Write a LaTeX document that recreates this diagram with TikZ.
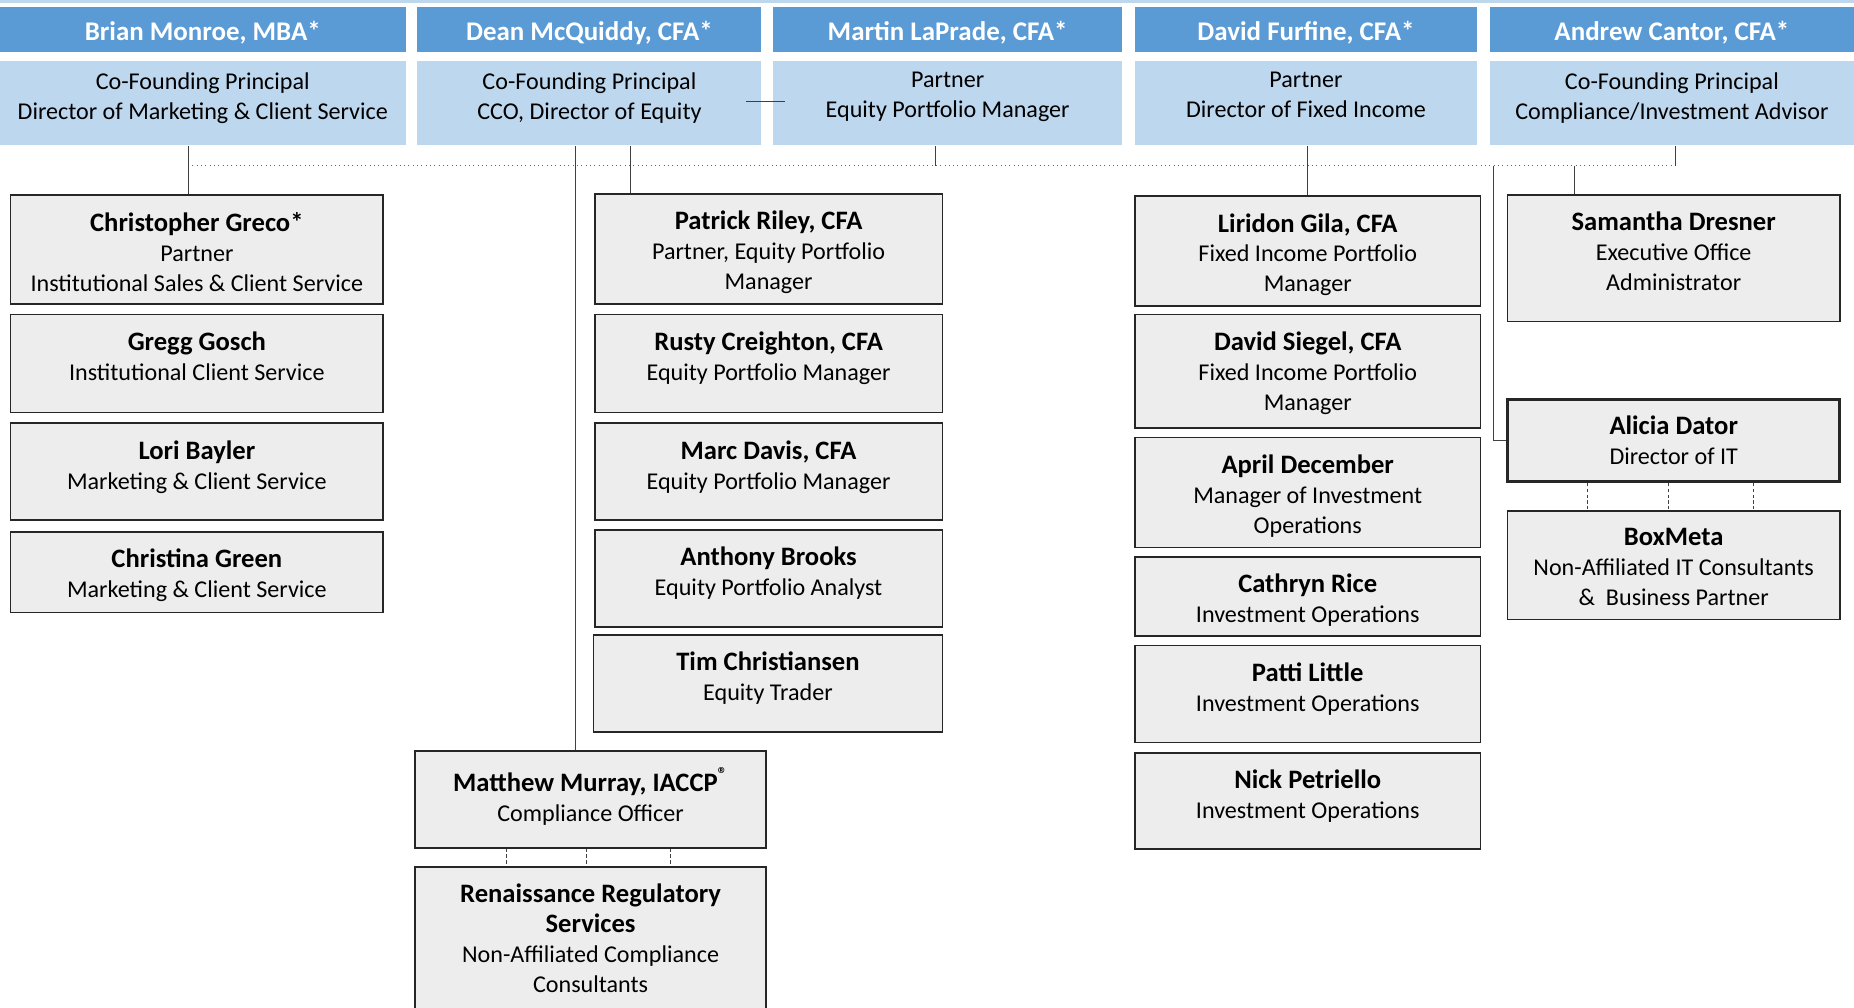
\documentclass[tikz,border=0pt]{standalone}
\usepackage{fontspec}
\setmainfont{Carlito}
\definecolor{hdrdark}{HTML}{5B9BD5}
\definecolor{hdrlight}{HTML}{BDD7EE}
\definecolor{cardfill}{HTML}{EDEDED}
\newcommand{\who}[1]{{\fontsize{16}{18}\selectfont\bfseries #1}}
\tikzset{
  sz/.style 2 args={minimum width=#1*0.025cm, minimum height=#2*0.025cm, inner sep=0pt},
  namebar/.style={fill=hdrdark, text=white, text height=15.8pt, text depth=3pt, font=\fontsize{16.2}{18}\selectfont\bfseries},
  rolebar/.style={fill=hdrlight},
  card/.style={draw=black!85, line width=1pt, fill=cardfill},
  txt/.style={anchor=north, align=center, inner sep=0pt, yshift=-10.6pt, font=\fontsize{14.5}{18}\selectfont, execute at begin node=\strut},
  roletxt/.style={txt, yshift=4pt},
  conn/.style={line width=.6pt, black!75},
  bus/.style={line width=.6pt, black!60, dotted},
  link/.style={line width=.6pt, black!75, dash pattern=on 2pt off 1.5pt},
}
\begin{document}
\begin{tikzpicture}[x=0.025cm, y=-0.025cm]
\useasboundingbox (0,0) rectangle (1568,852);
\fill[hdrlight] (0,0) rectangle (1568,2.5);

% partners
\node[namebar, sz={343}{38}] (brianN) at (171.5,25) {Brian Monroe, MBA*};
\node[namebar, sz={291}{38}] (deanN) at (498.5,25) {Dean McQuiddy, CFA*};
\node[namebar, sz={295}{38}] (martinN) at (801.5,25) {Martin LaPrade, CFA*};
\node[namebar, sz={289}{38}] (davidN) at (1104.5,25) {David Furfine, CFA*};
\node[namebar, sz={308}{38}] (andrewN) at (1414,25) {Andrew Cantor, CFA*};
\node[rolebar, sz={343}{71}, label={[roletxt]north:{Co-Founding Principal\\Director of Marketing \& Client Service}}] (brian) at (171.5,87.5) {};
\node[rolebar, sz={291}{71}, label={[roletxt]north:{Co-Founding Principal\\CCO, Director of Equity}}] (dean) at (498.5,87.5) {};
\node[rolebar, sz={295}{71}, label={[roletxt]north:{Partner\\Equity Portfolio Manager}}] (martin) at (801.5,87.5) {};
\node[rolebar, sz={289}{71}, label={[roletxt]north:{Partner\\Director of Fixed Income}}] (david) at (1104.5,87.5) {};
\node[rolebar, sz={308}{71}, label={[roletxt]north:{Co-Founding Principal\\Compliance/Investment Advisor}}] (andrew) at (1414,87.5) {};

% marketing
\node[card, sz={315}{92}, label={[txt]north:{\who{Christopher Greco*}\\Partner\\Institutional Sales \& Client Service}}] (greco) at (166.5,211) {};
\node[card, sz={315}{83}, label={[txt]north:{\who{Gregg Gosch}\\Institutional Client Service}}] (gosch) at (166.5,307.5) {};
\node[card, sz={315}{82}, label={[txt]north:{\who{Lori Bayler}\\Marketing \& Client Service}}] (bayler) at (166.5,399) {};
\node[card, sz={315}{68}, label={[txt]north:{\who{Christina Green}\\Marketing \& Client Service}}] (green) at (166.5,484) {};

% equity
\node[card, sz={294}{93}, label={[txt]north:{\who{Patrick Riley, CFA}\\Partner, Equity Portfolio\\Manager}}] (riley) at (650,210.5) {};
\node[card, sz={294}{83}, label={[txt]north:{\who{Rusty Creighton, CFA}\\Equity Portfolio Manager}}] (creighton) at (650,307.5) {};
\node[card, sz={294}{82}, label={[txt]north:{\who{Marc Davis, CFA}\\Equity Portfolio Manager}}] (davis) at (650,399) {};
\node[card, sz={294}{82}, label={[txt]north:{\who{Anthony Brooks}\\Equity Portfolio Analyst}}] (brooks) at (650,489) {};
\node[card, sz={295}{82}, label={[txt]north:{\who{Tim Christiansen}\\Equity Trader}}] (christiansen) at (649.5,578) {};

% compliance
\node[card, sz={297}{82}, label={[txt]north:{\who{Matthew Murray, IACCP\textsuperscript{\textregistered}}\\Compliance Officer}}] (murray) at (499.5,676) {};
\node[card, sz={297}{137}, label={[txt]north:{\who{Renaissance Regulatory}\\\who{Services}\\Non-Affiliated Compliance\\Consultants}}] (rrs) at (499.5,801.5) {};

% fixed income and operations
\node[card, sz={292}{93}, label={[txt]north:{\who{Liridon Gila, CFA}\\Fixed Income Portfolio\\Manager}}] (gila) at (1106,212.5) {};
\node[card, sz={292}{96}, label={[txt]north:{\who{David Siegel, CFA}\\Fixed Income Portfolio\\Manager}}] (siegel) at (1106,314) {};
\node[card, sz={292}{93}, label={[txt]north:{\who{April December}\\Manager of Investment\\Operations}}] (december) at (1106,416.5) {};
\node[card, sz={292}{67}, label={[txt]north:{\who{Cathryn Rice}\\Investment Operations}}] (rice) at (1106,504.5) {};
\node[card, sz={292}{82}, label={[txt]north:{\who{Patti Little}\\Investment Operations}}] (little) at (1106,587) {};
\node[card, sz={292}{81}, label={[txt]north:{\who{Nick Petriello}\\Investment Operations}}] (petriello) at (1106,677.5) {};

% office and IT
\node[card, sz={281}{107}, label={[txt]north:{\who{Samantha Dresner}\\Executive Office\\Administrator}}] (dresner) at (1415.5,218.5) {};
\node[card, line width=2pt, sz={281}{69}, label={[txt]north:{\who{Alicia Dator}\\Director of IT}}] (dator) at (1415.5,372.5) {};
\node[card, sz={281}{92}, label={[txt]north:{\who{BoxMeta}\\Non-Affiliated IT Consultants\\\&~ Business Partner}}] (boxmeta) at (1415.5,478) {};

% lines
\coordinate (tapA) at (159,140);
\coordinate (tapB) at (487,140);
\coordinate (tapC) at (533,140);
\coordinate (tapD) at (791,140);
\coordinate (tapE) at (1106,140);
\coordinate (tapF) at (1263,140);
\coordinate (tapG) at (1332,140);
\coordinate (tapH) at (1417,140);
\coordinate (peerL) at (631,86);
\coordinate (peerR) at (664,86);
\draw[bus] (tapA) -- (tapH);
\draw[conn] (brian.south -| tapA) -- (greco.north -| tapA);
\draw[conn] (dean.south -| tapB) -- (murray.north -| tapB);
\draw[conn] (dean.south -| tapC) -- (riley.north -| tapC);
\draw[conn] (martin.south -| tapD) -- (tapD);
\draw[conn] (david.south -| tapE) -- (gila.north -| tapE);
\draw[conn] (andrew.south -| tapH) -- (tapH);
\draw[conn] (tapG) -- (dresner.north -| tapG);
\draw[conn] (tapF) |- (dator.west);
\draw[conn] (peerL) -- (peerR);
\foreach \x in {428,496,567}
    \draw[link] (murray.south -| \x,0) -- (rrs.north -| \x,0);
\foreach \x in {1343,1411,1483}
    \draw[link] (dator.south -| \x,0) -- (boxmeta.north -| \x,0);

\end{tikzpicture}
\end{document}
